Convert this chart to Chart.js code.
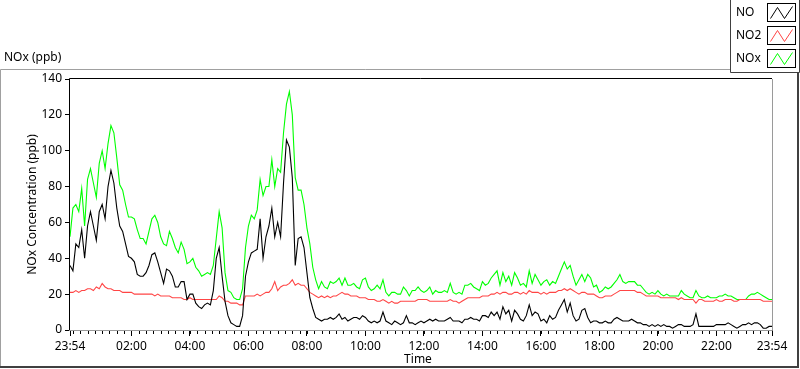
<!DOCTYPE html>
<html><head><meta charset="utf-8">
<script src="https://cdn.jsdelivr.net/npm/chart.js@4.4.0/dist/chart.umd.min.js"></script>
<style>html,body{margin:0;padding:0;background:#fff;}#wrap{position:relative;width:800px;height:369px;}</style>
</head><body><div id="wrap"><canvas id="c" width="800" height="369"></canvas></div>
<script>
// sample times: minutes after 23:54, one reading every 6 minutes
const sampleMinutes = Array.from({length: 241}, (_, i) => i * 6);

const NO = [
 36,33,48,46,56,40,58,66,58,50, 66,70,62,80,89,82,68,58,55,48, 41,40,38,31,30,30,32,36,42,43,
 38,32,26,34,33,30,24,24,27,27, 17,20,20,15,13,12,14,15,14,22, 40,46,30,16,8,4,3,2,2,8, 30,
 38,43,44,45,62,40,52,58,68,52, 60,52,82,106,102,85,36,51,52,46, 32,18,12,7,6,5,6,6,7,6,
 7,9,6,7,5,6,7,7,6,8, 7,5,4,5,4,5,10,5,4,3, 5,4,3,4,8,4,4,3,4,5,
 4,5,6,5,6,5,5,5,6,7, 5,5,5,4,6,6,7,6,6,5, 8,8,7,10,8,10,6,13,9,11,
 5,11,9,6,5,8,14,8,10,9, 5,6,4,8,6,7,11,14,17,10, 15,8,5,6,11,12,7,4,5,5,
 4,4,5,4,4,6,7,6,5,5, 5,6,5,4,4,3,3,2,3,2, 3,2,3,2,2,1,2,3,3,2,
 2,2,3,9,2,2,2,2,2,2, 3,3,3,3,4,3,2,1,2,3, 3,4,3,4,4,3,1,1,2,2
];
const NO2 = [
 21,21,22,21,22,22,23,23,22,24, 23,26,24,23,23,22,22,22,21,21, 21,21,20,20,20,20,20,20,20,19,
 20,19,19,19,19,18,18,18,18,17, 17,18,17,17,17,17,17,17,17,17, 17,19,18,16,16,15,15,15,14,14, 19,
 19,19,19,20,19,20,21,21,23,27, 22,24,25,25,26,28,25,26,25,25, 23,21,20,19,18,19,18,19,18,19,
 19,20,21,20,20,19,19,19,18,18, 18,17,17,17,16,16,17,16,15,16, 15,15,16,16,16,16,16,16,17,17,
 17,17,16,16,16,16,16,16,16,17, 16,16,15,16,17,18,18,18,18,18, 19,19,19,20,20,21,20,21,21,20,
 20,21,21,20,21,20,22,21,21,21, 20,21,20,21,21,21,22,22,23,22, 23,22,21,20,21,21,20,20,20,19,
 18,18,19,19,19,20,21,22,22,22, 22,22,22,21,21,20,19,19,19,19, 19,18,18,18,18,18,18,17,18,17,
 17,17,17,15,17,17,16,16,16,16, 17,16,16,17,17,17,16,16,17,17, 17,17,17,17,17,17,16,16,16,16
];
const NOx = [
 52,68,70,66,79,58,84,90,82,74, 93,100,90,104,114,110,96,81,78,70, 63,63,62,56,51,51,48,55,62,64,
 60,52,48,47,55,51,46,43,49,45, 37,38,40,35,33,30,31,32,31,36, 51,66,57,32,22,21,18,17,17,23, 46,
 58,64,62,67,84,75,80,80,95,80, 90,88,110,126,133,120,85,78,78,70, 57,48,35,28,23,27,24,23,27,26,
 27,29,25,29,25,25,26,24,23,28, 29,24,22,23,25,23,28,21,19,21, 21,20,20,24,22,19,22,22,24,22,
 21,22,24,20,22,21,21,22,21,26, 21,20,21,20,25,25,26,24,23,22, 27,25,26,29,31,33,25,32,27,30,
 25,32,29,25,26,24,33,26,31,28, 25,27,28,25,27,26,30,34,38,34, 36,30,25,28,31,27,31,29,24,25,
 21,22,24,23,24,26,28,31,27,26, 27,27,27,25,25,23,21,20,21,20, 22,20,19,20,19,19,19,19,22,20,
 19,18,18,22,19,18,18,19,18,18, 18,19,19,20,19,19,18,17,17,17, 17,19,20,20,21,20,19,18,17,17
];

const tickMinutes = [0,126,246,366,486,606,726,846,966,1086,1206,1326,1440];
const tickLabels = ['23:54','02:00','04:00','06:00','08:00','10:00','12:00','14:00','16:00','18:00','20:00','22:00','23:54'];
const minorTickMinutes = Array.from({length: 96}, (_, k) => 6 + 15 * k);
const yTicks = [0,20,40,60,80,100,120,140];
const seriesNames = ['NO','NO2','NOx'];
const seriesColors = ['#000000','#ff4545','#00ff00'];

const FONT = '12px "Noto Sans", "DejaVu Sans", sans-serif';

const framePlugin = {
  id: 'frame',
  beforeDraw(chart) {
    const ctx = chart.ctx;
    ctx.save();
    ctx.fillStyle = '#fff';
    ctx.fillRect(0, 0, chart.width, chart.height);
    ctx.restore();
  },
  afterDraw(chart) {
    const ctx = chart.ctx;
    const a = chart.chartArea;
    const xs = chart.scales.x;
    ctx.save();
    // outer panel frame
    ctx.lineWidth = 1;
    ctx.strokeStyle = '#a0a0a0';
    ctx.beginPath();
    ctx.moveTo(0.5, 367); ctx.lineTo(0.5, 69.5); ctx.lineTo(730, 69.5);
    ctx.stroke();
    ctx.strokeStyle = '#404040';
    ctx.lineWidth = 2;
    ctx.beginPath();
    ctx.moveTo(0, 367); ctx.lineTo(798, 367); ctx.lineTo(798, 72);
    ctx.stroke();
    // plot area frame
    ctx.lineWidth = 1;
    ctx.strokeStyle = '#000';
    ctx.beginPath();
    ctx.moveTo(a.left - 0.5, a.bottom); ctx.lineTo(a.left - 0.5, a.top - 0.5); ctx.lineTo(a.right, a.top - 0.5);
    ctx.stroke();
    ctx.strokeStyle = '#9a9a9a';
    ctx.beginPath();
    ctx.moveTo(a.right + 0.5, a.top); ctx.lineTo(a.right + 0.5, a.bottom + 0.5); ctx.lineTo(a.left - 1, a.bottom + 0.5);
    ctx.stroke();
    // minor x ticks
    ctx.strokeStyle = '#000';
    ctx.beginPath();
    minorTickMinutes.forEach(m => {
      const px = Math.round(xs.getPixelForValue(m)) + 0.5;
      ctx.moveTo(px, a.bottom + 1); ctx.lineTo(px, a.bottom + 4);
    });
    ctx.stroke();
    // titles
    ctx.fillStyle = '#000';
    ctx.font = FONT;
    ctx.textBaseline = 'middle';
    ctx.textAlign = 'left';
    ctx.fillText('NOx (ppb)', 4, 58);
    ctx.textAlign = 'center';
    ctx.fillText('Time', (a.left + a.right) / 2 - 3, 360);
    ctx.save();
    ctx.translate(33, (a.top + a.bottom) / 2);
    ctx.rotate(-Math.PI / 2);
    ctx.fillText('NOx Concentration (ppb)', 0, 0);
    ctx.restore();
    // legend box
    ctx.fillStyle = '#fff';
    ctx.fillRect(731, 0, 69, 72);
    ctx.strokeStyle = '#404040';
    ctx.lineWidth = 1;
    ctx.beginPath();
    ctx.moveTo(730.5, 0); ctx.lineTo(730.5, 72.5); ctx.lineTo(799.5, 72.5); ctx.lineTo(799.5, 0);
    ctx.stroke();
    seriesNames.forEach((name, i) => {
      const cy = 13 + i * 23;
      ctx.fillStyle = '#000';
      ctx.textAlign = 'left';
      ctx.fillText(name, 736, cy);
      const bx = 767.5, by = cy - 9.5, bw = 28, bh = 18;
      ctx.strokeStyle = '#000';
      ctx.strokeRect(bx, by, bw, bh);
      ctx.strokeStyle = seriesColors[i];
      ctx.beginPath();
      ctx.moveTo(bx + 3, by + bh - 3);
      ctx.lineTo(bx + 10, by + 4);
      ctx.lineTo(bx + 17, by + bh - 3);
      ctx.lineTo(bx + 25, by + 3);
      ctx.stroke();
    });
    ctx.restore();
  }
};

const mk = (i, vals) => ({
  label: seriesNames[i],
  data: sampleMinutes.map((m, k) => ({x: m, y: vals[k]})),
  borderColor: seriesColors[i],
  backgroundColor: seriesColors[i],
  borderWidth: 1.1,
  pointRadius: 0,
  tension: 0,
  fill: false
});

new Chart(document.getElementById('c').getContext('2d'), {
  type: 'line',
  data: { datasets: [mk(0, NO), mk(1, NO2), mk(2, NOx)] },
  options: {
    responsive: false,
    animation: false,
    events: [],
    layout: { padding: { left: 0, right: 28, top: 79, bottom: 0 } },
    plugins: { legend: { display: false }, tooltip: { enabled: false } },
    scales: {
      x: {
        type: 'linear', min: 0, max: 1440,
        afterFit(s) { s.height = 39; },
        afterBuildTicks(s) { s.ticks = tickMinutes.map(v => ({ value: v })); },
        ticks: {
          autoSkip: false, maxRotation: 0, minRotation: 0, padding: 3,
          color: '#000', font: { family: '"Noto Sans", "DejaVu Sans", sans-serif', size: 12 },
          callback: (v) => tickLabels[tickMinutes.indexOf(v)]
        },
        grid: { drawOnChartArea: false, tickLength: 6, color: '#000', lineWidth: 1 },
        border: { display: false }
      },
      y: {
        min: 0, max: 140,
        afterFit(s) { s.width = 70; },
        afterBuildTicks(s) { s.ticks = yTicks.map(v => ({ value: v })); },
        ticks: {
          padding: 3, color: '#000',
          font: { family: '"Noto Sans", "DejaVu Sans", sans-serif', size: 12 }
        },
        grid: { drawOnChartArea: false, tickLength: 5, color: '#000', lineWidth: 1 },
        border: { display: false }
      }
    }
  },
  plugins: [framePlugin]
});
</script>
</body></html>
